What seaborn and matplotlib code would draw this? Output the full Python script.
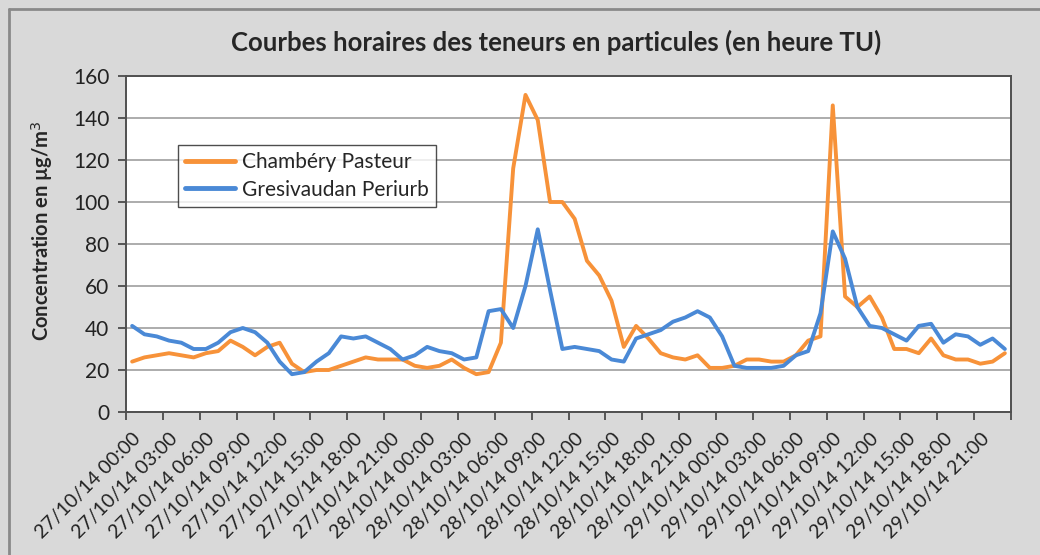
import matplotlib
matplotlib.use("Agg")
import matplotlib.pyplot as plt
from matplotlib.lines import Line2D
import seaborn as sns
import pandas as pd
import numpy as np

# ---- data (hourly, 27/10/14 00:00 .. 29/10/14 23:00) ----
days = ["27/10/14", "28/10/14", "29/10/14"]
hours = [f"{h:02d}:00" for h in range(24)]
timestamps = [f"{d} {h}" for d in days for h in hours]

chambery = [24, 26, 27, 28, 27, 26, 28, 29, 34, 31, 27, 31,
            33, 23, 19, 20, 20, 22, 24, 26, 25, 25, 25, 22,
            21, 22, 25, 21, 18, 19, 33, 116, 151, 139, 100, 100,
            92, 72, 65, 53, 31, 41, 35, 28, 26, 25, 27, 21,
            21, 22, 25, 25, 24, 24, 27, 34, 36, 146, 55, 50,
            55, 45, 30, 30, 28, 35, 27, 25, 25, 23, 24, 28]
gresivaudan = [41, 37, 36, 34, 33, 30, 30, 33, 38, 40, 38, 33,
               24, 18, 19, 24, 28, 36, 35, 36, 33, 30, 25, 27,
               31, 29, 28, 25, 26, 48, 49, 40, 60, 87, 58, 30,
               31, 30, 29, 25, 24, 35, 37, 39, 43, 45, 48, 45,
               36, 22, 21, 21, 21, 22, 27, 29, 47, 86, 73, 50,
               41, 40, 37, 34, 41, 42, 33, 37, 36, 32, 35, 30]
series_names = ["Chambéry Pasteur", "Gresivaudan Periurb"]
yticks = [0, 20, 40, 60, 80, 100, 120, 140, 160]
title = "Courbes horaires des teneurs en particules (en heure TU)"
ylabel = "Concentration en µg/m$^3$"

df = pd.DataFrame({
    "idx": list(range(len(timestamps))) * 2,
    "time": timestamps * 2,
    "value": chambery + gresivaudan,
    "station": [series_names[0]] * len(chambery) + [series_names[1]] * len(gresivaudan),
})

# ---- style ----
sns.set_theme(style="white")
plt.rcParams["font.family"] = ["Lato", "DejaVu Sans"]

bg = "#d9d9d9"
fig = plt.figure(figsize=(10.4, 5.55), dpi=100, facecolor=bg)
ax = fig.add_axes([126/1040, 1-412/555, (1011-126)/1040, (412-76)/555])
ax.set_facecolor("white")

palette = {series_names[0]: "#F79239", series_names[1]: "#4A89D6"}
sns.lineplot(data=df, x="idx", y="value", hue="station", palette=palette,
             linewidth=2.8, ax=ax, legend=False, sort=False)

n = len(timestamps)
ax.set_xlim(-0.5, n - 0.5)
ax.set_ylim(0, 160)
ax.set_yticks(yticks)
ax.set_yticklabels([str(v) for v in yticks], fontsize=15, color="#222222")
ax.yaxis.grid(True, color="#a6a6a6", linewidth=1.3)
ax.set_axisbelow(True)

label_pos = list(range(0, n, 3))
ax.set_xticks(label_pos)
ax.set_xticklabels([timestamps[i] for i in label_pos], rotation=45, ha="right",
                   rotation_mode="anchor", fontsize=14, color="#222222")
ax.tick_params(axis="x", which="major", length=0, pad=13)
ax.set_xticks(np.arange(-0.5, n, 3), minor=True)
ax.tick_params(axis="x", which="minor", length=6, width=1.2, color="#404040", direction="out", bottom=True)
ax.tick_params(axis="y", length=6, width=1.2, color="#404040", direction="out", left=True, pad=6)

for s in ax.spines.values():
    s.set_color("#505050")
    s.set_linewidth(1.4)

ax.set_xlabel("")
ax.set_ylabel(ylabel, fontsize=14.5, fontweight="bold")
ax.yaxis.set_label_coords(-0.080, 0.54)
fig.suptitle(title, fontsize=18.5, fontweight="bold", x=556/1040, y=1-30/555, va="top")

handles = [Line2D([0], [0], color=palette[s], linewidth=3.5) for s in series_names]
leg = ax.legend(handles, series_names, loc="upper left",
                bbox_to_anchor=(178/1040, 1-145/555), bbox_transform=fig.transFigure,
                borderaxespad=0, frameon=True, fancybox=False, fontsize=15,
                handlelength=2.4, handletextpad=0.3, borderpad=0.35, labelspacing=0.35)
leg.get_frame().set_edgecolor("#222222")
leg.get_frame().set_linewidth(1.0)

# outer chart border (top & left visible)
fig.add_artist(Line2D([9/1040, 9/1040], [0, 1-9/555], transform=fig.transFigure, color="#8a8a8a", linewidth=2))
fig.add_artist(Line2D([9/1040, 1], [1-9/555, 1-9/555], transform=fig.transFigure, color="#8a8a8a", linewidth=2))

fig.savefig("out.png", dpi=100, facecolor=bg)
